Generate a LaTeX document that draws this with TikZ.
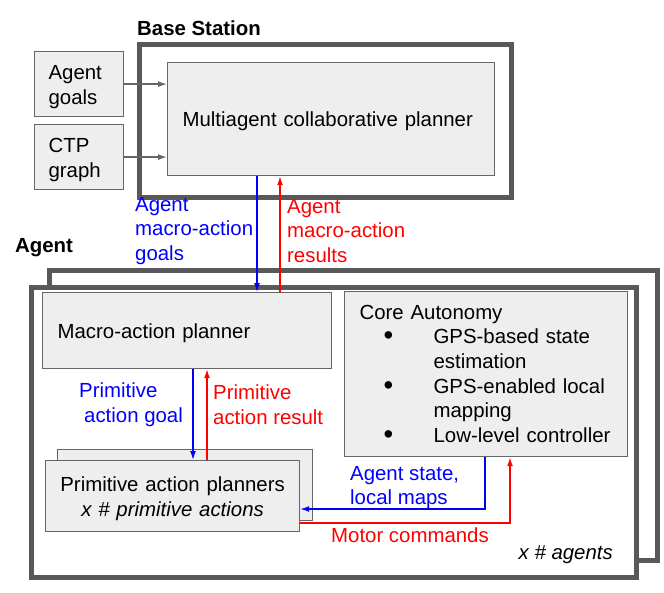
\documentclass[tikz,border=0pt]{standalone}
\usepackage{fontspec}
\setmainfont{Liberation Sans}
\usetikzlibrary{arrows.meta}
\definecolor{boxgray}{HTML}{EEEEEE}
\definecolor{linegray}{HTML}{666666}
\definecolor{framegray}{HTML}{595959}
\newcommand{\bitem}{\makebox[74pt][l]{\hspace*{24pt}\raisebox{-1pt}{\scalebox{1.35}{\textbullet}}}}
\newcommand{\bcont}{\hspace*{74pt}}
\newcommand{\topstrut}{\rule{0pt}{19.8pt}}
\begin{document}
\begin{tikzpicture}[x=1pt,y=-1pt,
    font=\fontsize{20.4}{24.6}\selectfont,
    box/.style={draw=linegray,fill=boxgray,line width=1.2pt,anchor=north west,inner ysep=0pt},
    frame/.style={draw=framegray,line width=5pt,anchor=north west,inner sep=0pt},
    feed/.style={draw=linegray,line width=1.4pt,-{Latex[length=9pt,width=6pt]}},
    goal/.style={blue,line width=1.4pt,-{Latex[length=9pt,width=6pt]}},
    result/.style={red,line width=1.4pt,-{Latex[length=9pt,width=6pt]}},
    lbl/.style={align=left,anchor=west,inner sep=0pt}]
    \useasboundingbox (0,0) rectangle (664,592);

    % 枠を描画
    \node[frame,minimum width=372.5pt,minimum height=153pt] (bs) at (136.5,41.5) {};
    \node[frame,minimum width=608.5pt,minimum height=290.5pt] (agb) at (46.5,267.5) {};
    \node[frame,fill=white,minimum width=605.5pt,minimum height=290pt] (agf) at (28.5,284.5) {};
    \node[anchor=west,inner sep=0pt,font=\fontsize{20.4}{24.6}\selectfont\bfseries] (bslbl) at (137,28) {Base Station};
    \node[anchor=west,inner sep=0pt,font=\fontsize{20.4}{24.6}\selectfont\bfseries] (aglbl) at (15,248) {Agent};
    \node[anchor=east,inner sep=0pt,font=\fontsize{20.4}{24.6}\selectfont\itshape] (num) at (613,555) {x \# agents};

    % ボックスを描画
    \node[box,minimum width=89pt,minimum height=65pt,inner xsep=14pt,text width=61pt,align=left] (ag) at (34,51) {\topstrut Agent\\goals};
    \node[box,minimum width=89pt,minimum height=65pt,inner xsep=14pt,text width=61pt,align=left] (ctp) at (34,124) {\topstrut CTP\\graph};
    \node[box,minimum width=327pt,minimum height=113pt,inner xsep=15pt,text width=297pt,align=left] (mac) at (167,62) {\topstrut Multiagent collaborative planner};
    \node[box,minimum width=289pt,minimum height=76pt,inner xsep=15pt,text width=259pt,align=left] (map) at (42,292) {\topstrut Macro-action planner};
    \node[box,minimum width=283pt,minimum height=165pt,inner xsep=15pt,text width=253pt,align=left] (core) at (344,291)
        {Core Autonomy\\\bitem GPS-based state\\\bcont estimation\\\bitem GPS-enabled local\\\bcont mapping\\\bitem Low-level controller};
    \node[box,minimum width=255pt,minimum height=71pt] (pab) at (57,449) {};
    \node[box,minimum width=254pt,minimum height=71pt,inner xsep=10pt,text width=234pt,align=center] (pap) at (45,460)
        {\topstrut Primitive action planners\\\textit{x \# primitive actions}};

    % 矢印を描画
    \coordinate (gx) at (257,0);
    \coordinate (rx) at (280,0);
    \coordinate (pgx) at (193,0);
    \coordinate (prx) at (207,0);
    \coordinate (sx) at (485,509);
    \coordinate (mx) at (510,523);
    \draw[feed] (ag.east) -- (mac.west |- ag.east);
    \draw[feed] (ctp.east) -- (mac.west |- ctp.east);
    \draw[goal] (mac.south -| gx) -- (map.north -| gx);
    \draw[result] (map.north -| rx) -- (mac.south -| rx);
    \draw[goal] (map.south -| pgx) -- (pap.north -| pgx);
    \draw[result] (pap.north -| prx) -- (map.south -| prx);
    \draw[goal] (core.south -| sx) |- (pap.east |- sx);
    \draw[result] (pap.east |- mx) -| (core.south -| mx);

    % ラベルを描画
    \node[lbl,blue] (l1) at (135,231) {Agent\\macro-action\\goals};
    \node[lbl,red] (l2) at (287,231) {Agent\\macro-action\\results};
    \node[lbl,blue] (l3) at (79,404.5) {Primitive\\\hspace*{5pt}action goal};
    \node[lbl,red] (l4) at (213,404.5) {Primitive\\action result};
    \node[lbl,blue] (l5) at (350,487.5) {Agent state,\\local maps};
    \node[lbl,red] (l6) at (331,535) {Motor commands};
\end{tikzpicture}
\end{document}
